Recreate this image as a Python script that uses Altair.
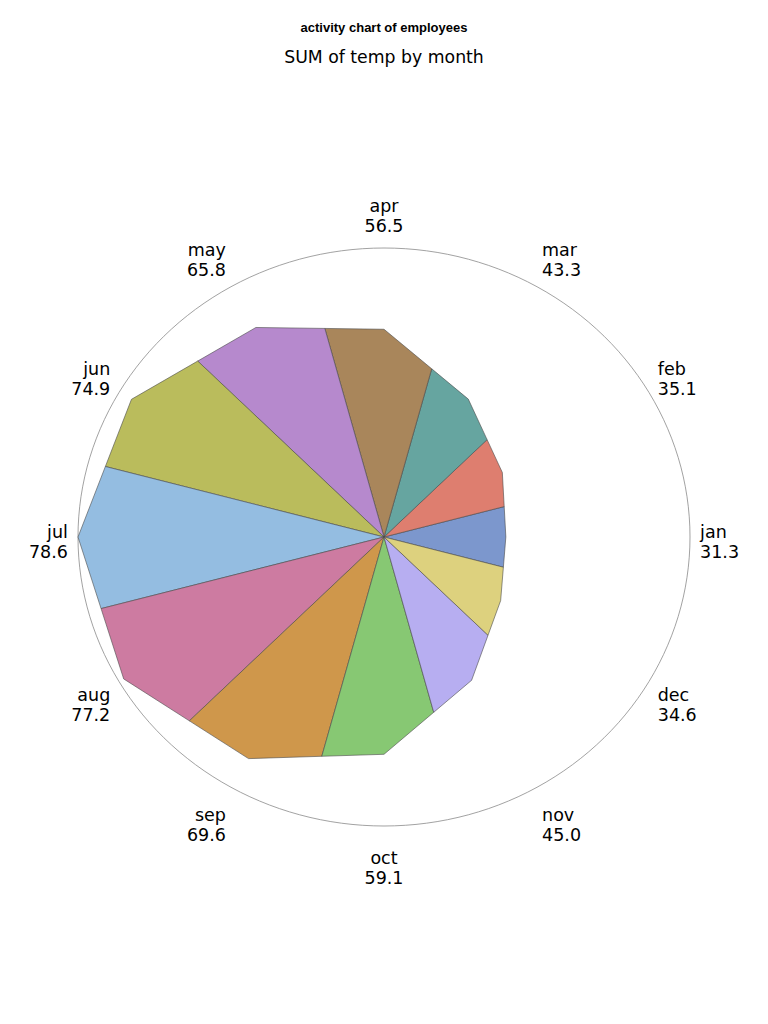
import math
import altair as alt
import pandas as pd

months = ["jan", "feb", "mar", "apr", "may", "jun", "jul", "aug", "sep", "oct", "nov", "dec"]
values = [31.3, 35.1, 43.3, 56.5, 65.8, 74.9, 78.6, 77.2, 69.6, 59.1, 45.0, 34.6]
colors = ["#7C97CD", "#DE7E6F", "#66A5A0", "#A9865B", "#B689CD", "#BABC5C",
          "#94BDE1", "#CD7BA1", "#CF974B", "#87C873", "#B7AEF1", "#DDD17E"]

n = len(months)
vmax = max(values)
step = 2 * math.pi / n
half = step / 2

# star-chart wedges: centre, boundary with previous month, value point, boundary with next
rows = []
for i in range(n):
    th = i * step
    a_prev, a, a_next = values[i - 1], values[i], values[(i + 1) % n]
    b1 = 2 * a_prev * a * math.cos(half) / (a_prev + a)
    b2 = 2 * a * a_next * math.cos(half) / (a + a_next)
    pts = [(0.0, th), (b1, th - half), (a, th), (b2, th + half)]
    for k, (r, t) in enumerate(pts):
        rows.append({"month": months[i], "k": k, "x": r * math.cos(t), "y": r * math.sin(t)})
wedge_df = pd.DataFrame(rows)

ring_df = pd.DataFrame([
    {"k": j, "x": vmax * math.cos(math.radians(j)), "y": vmax * math.sin(math.radians(j))}
    for j in range(0, 361, 2)
])

lab_rows = []
for i in range(n):
    th = i * step
    c = math.cos(th)
    grp = "left" if c > 0.1 else ("right" if c < -0.1 else "center")
    lab_rows.append({
        "month": months[i],
        "val": f"{values[i]:.1f}",
        "grp": grp,
        "lx": vmax * 1.033 * math.cos(th),
        "ly": vmax * 1.128 * math.sin(th) - vmax * 0.022,
    })
lab_df = pd.DataFrame(lab_rows)

xs = alt.Scale(domain=[-vmax, vmax], nice=False, zero=False)
ys = alt.Scale(domain=[-vmax, vmax], nice=False, zero=False)

ring = alt.Chart(ring_df).mark_line(stroke="#8a8a8a", strokeWidth=0.8).encode(
    x=alt.X("x:Q", scale=xs, axis=None),
    y=alt.Y("y:Q", scale=ys, axis=None),
    order="k:Q",
)

wedges = alt.Chart(wedge_df).mark_line(
    interpolate="linear-closed", filled=True, stroke="#4a4a4a", strokeWidth=0.6, fillOpacity=1
).encode(
    x=alt.X("x:Q", scale=xs, axis=None),
    y=alt.Y("y:Q", scale=ys, axis=None),
    color=alt.Color("month:N", scale=alt.Scale(domain=months, range=colors), legend=None),
    detail="month:N",
    order="k:Q",
)

texts = []
for grp in ["left", "right", "center"]:
    base = alt.Chart(lab_df).transform_filter(alt.datum.grp == grp)
    for field, dy in [("month", -10), ("val", 10)]:
        texts.append(
            base.mark_text(align=grp, baseline="middle", dy=dy, fontSize=17.5,
                           font="DejaVu Sans", color="black").encode(
                x=alt.X("lx:Q", scale=xs, axis=None),
                y=alt.Y("ly:Q", scale=ys, axis=None),
                text=f"{field}:N",
            )
        )

chart = alt.layer(ring, wedges, *texts).properties(
    width=612,
    height=578,
    title=alt.Title(
        "activity chart of employees",
        subtitle="SUM of temp by month",
        font="Liberation Sans",
        fontSize=13,
        fontWeight="bold",
        color="black",
        subtitleFont="DejaVu Sans",
        subtitleFontSize=17.3,
        subtitleColor="black",
        subtitlePadding=14,
        anchor="middle",
        offset=132,
    ),
    padding={"left": 70, "top": 240, "right": 70, "bottom": 170},
    autosize=alt.AutoSizeParams(type="none"),
).configure_view(stroke=None)

chart.save("out.html", embed_options={"renderer": "svg", "actions": False})
